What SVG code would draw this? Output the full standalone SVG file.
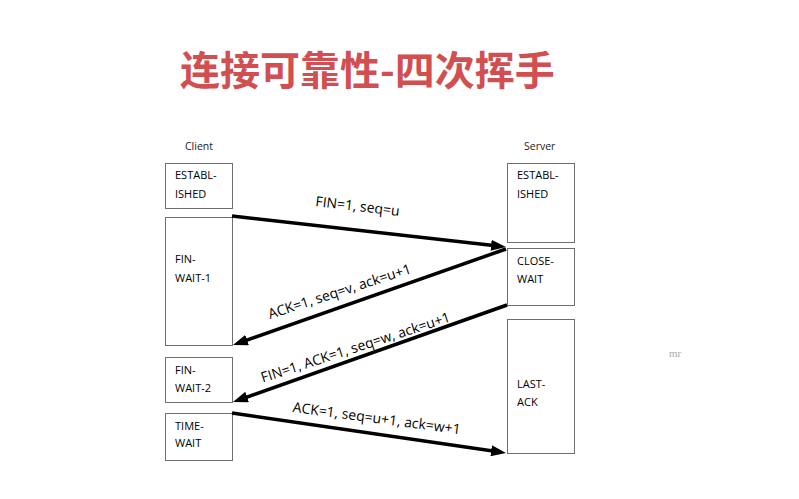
<svg xmlns="http://www.w3.org/2000/svg" width="799" height="499" viewBox="0 0 799 499">
<defs>
<style>
.title{font-family:"Noto Sans CJK SC","Noto Sans",sans-serif;font-weight:bold;font-size:40px;fill:#d24f51}
.box{fill:#fff;stroke:#6e6e6e;stroke-width:1}
.bt{font-family:"Open Sans","Liberation Sans",sans-serif;font-size:11px;fill:#000}
.hd{font-family:"Open Sans","Liberation Sans",sans-serif;font-size:10.5px;fill:#222}
.msg{stroke:#000;stroke-width:3.5;fill:none}
.lbl{font-family:"Open Sans","Liberation Sans",sans-serif;font-size:14px;fill:#000;text-anchor:middle}
.wm{font-family:"Liberation Serif",serif;font-size:11px;fill:#aaa}
</style>
<marker id="ah" markerUnits="userSpaceOnUse" markerWidth="15" markerHeight="11" refX="7" refY="5.5" orient="auto">
<path d="M0,0 L15,5.5 L0,11 z" fill="#000"/>
</marker>
</defs>
<rect width="799" height="499" fill="#fff"/>
<text class="title" x="180" y="85">连接可靠性-四次挥手</text>
<text class="hd" x="185" y="150">Client</text>
<text class="hd" x="524" y="150">Server</text>
<g id="c-established"><rect class="box" x="165.5" y="163.5" width="67" height="45"/><text class="bt" x="175" y="179">ESTABL-</text><text class="bt" x="175" y="198">ISHED</text></g>
<g id="c-finwait1"><rect class="box" x="165.5" y="217.5" width="67" height="128"/><text class="bt" x="175" y="263">FIN-</text><text class="bt" x="175" y="282">WAIT-1</text></g>
<g id="c-finwait2"><rect class="box" x="165.5" y="357.5" width="67" height="45"/><text class="bt" x="175" y="374">FIN-</text><text class="bt" x="175" y="392">WAIT-2</text></g>
<g id="c-timewait"><rect class="box" x="165.5" y="413.5" width="67" height="47"/><text class="bt" x="175" y="430">TIME-</text><text class="bt" x="175" y="447">WAIT</text></g>
<g id="s-established"><rect class="box" x="507.5" y="163.5" width="67" height="79"/><text class="bt" x="517" y="179">ESTABL-</text><text class="bt" x="517" y="198">ISHED</text></g>
<g id="s-closewait"><rect class="box" x="507.5" y="248.5" width="67" height="57"/><text class="bt" x="517" y="265">CLOSE-</text><text class="bt" x="517" y="283">WAIT</text></g>
<g id="s-lastack"><rect class="box" x="507.5" y="319.5" width="67" height="134"/><text class="bt" x="517" y="388">LAST-</text><text class="bt" x="517" y="406">ACK</text></g>
<g id="connectors">
<line class="msg" x1="232" y1="216" x2="498" y2="246.1" marker-end="url(#ah)"/>
<line class="msg" x1="506" y1="249" x2="240.5" y2="342.4" marker-end="url(#ah)"/>
<line class="msg" x1="507" y1="305" x2="240.5" y2="399.3" marker-end="url(#ah)"/>
<line class="msg" x1="232" y1="413" x2="498.1" y2="451.8" marker-end="url(#ah)"/>
<text class="lbl" transform="translate(357,211) rotate(6.7)">FIN=1, seq=u</text>
<text class="lbl" transform="translate(341,296) rotate(-18)">ACK=1, seq=v, ack=u+1</text>
<text class="lbl" transform="translate(357,352) rotate(-18)">FIN=1, ACK=1, seq=w, ack=u+1</text>
<text class="lbl" transform="translate(376,423) rotate(7.6)">ACK=1, seq=u+1, ack=w+1</text>
</g>
<text class="wm" x="669" y="357">mr</text>
</svg>
